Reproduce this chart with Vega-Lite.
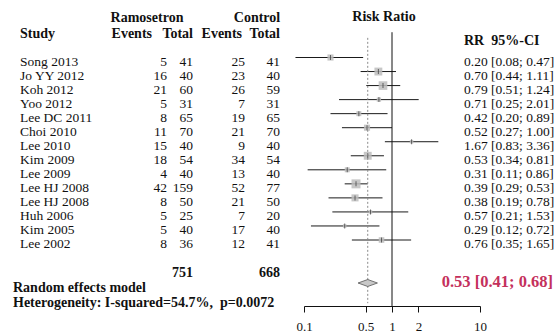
{
  "$schema": "https://vega.github.io/schema/vega-lite/v6.json",
  "width": 558,
  "height": 306,
  "autosize": {"type": "none"},
  "padding": {"left": 0, "right": 0, "top": 0, "bottom": 29},
  "background": "white",
  "config": {
    "view": {"stroke": null},
    "text": {"font": "Liberation Serif", "fontSize": 13.5, "color": "#111111", "baseline": "alphabetic"}
  },
  "datasets": {
    "studies": [
      {"row": 1, "study": "Song 2013", "e1": 5, "n1": 41, "e2": 25, "n2": 41, "rr": 0.20, "lo": 0.08, "hi": 0.47, "w": 6},
      {"row": 2, "study": "Jo YY 2012", "e1": 16, "n1": 40, "e2": 23, "n2": 40, "rr": 0.70, "lo": 0.44, "hi": 1.11, "w": 10},
      {"row": 3, "study": "Koh 2012", "e1": 21, "n1": 60, "e2": 26, "n2": 59, "rr": 0.79, "lo": 0.51, "hi": 1.24, "w": 12},
      {"row": 4, "study": "Yoo 2012", "e1": 5, "n1": 31, "e2": 7, "n2": 31, "rr": 0.71, "lo": 0.25, "hi": 2.01, "w": 3},
      {"row": 5, "study": "Lee DC 2011", "e1": 8, "n1": 65, "e2": 19, "n2": 65, "rr": 0.42, "lo": 0.20, "hi": 0.89, "w": 4},
      {"row": 6, "study": "Choi 2010", "e1": 11, "n1": 70, "e2": 21, "n2": 70, "rr": 0.52, "lo": 0.27, "hi": 1.00, "w": 6},
      {"row": 7, "study": "Lee 2010", "e1": 15, "n1": 40, "e2": 9, "n2": 40, "rr": 1.67, "lo": 0.83, "hi": 3.36, "w": 2},
      {"row": 8, "study": "Kim 2009", "e1": 18, "n1": 54, "e2": 34, "n2": 54, "rr": 0.53, "lo": 0.34, "hi": 0.81, "w": 10},
      {"row": 9, "study": "Lee 2009", "e1": 4, "n1": 40, "e2": 13, "n2": 40, "rr": 0.31, "lo": 0.11, "hi": 0.86, "w": 4},
      {"row": 10, "study": "Lee HJ 2008", "e1": 42, "n1": 159, "e2": 52, "n2": 77, "rr": 0.39, "lo": 0.29, "hi": 0.53, "w": 13},
      {"row": 11, "study": "Lee HJ 2008", "e1": 8, "n1": 50, "e2": 21, "n2": 50, "rr": 0.38, "lo": 0.19, "hi": 0.78, "w": 8},
      {"row": 12, "study": "Huh 2006", "e1": 5, "n1": 25, "e2": 7, "n2": 20, "rr": 0.57, "lo": 0.21, "hi": 1.53, "w": 2},
      {"row": 13, "study": "Kim 2005", "e1": 5, "n1": 40, "e2": 17, "n2": 40, "rr": 0.29, "lo": 0.12, "hi": 0.72, "w": 2},
      {"row": 14, "study": "Lee 2002", "e1": 8, "n1": 36, "e2": 12, "n2": 41, "rr": 0.76, "lo": 0.35, "hi": 1.65, "w": 5}
    ],
    "pooled": [
      {"model": "Random effects model", "het": "Heterogeneity: I-squared=54.7%,\u00a0 p=0.0072", "rr": 0.53, "lo": 0.41, "hi": 0.68, "n1": 751, "n2": 668}
    ],
    "headers": [
      {"text": "Ramosetron", "col": "ram", "line": "top"},
      {"text": "Control", "col": "ctl", "line": "top"},
      {"text": "Risk Ratio", "col": "forest", "line": "top"},
      {"text": "Study", "col": "study", "line": "sub"},
      {"text": "Events", "col": "e1", "line": "sub"},
      {"text": "Total", "col": "n1", "line": "sub"},
      {"text": "Events", "col": "e2", "line": "sub"},
      {"text": "Total", "col": "n2", "line": "sub"},
      {"text": "RR\u00a0 95%-CI", "col": "rr", "line": "sub"}
    ],
    "nullEffect": [{"rr": 1}]
  },
  "layer": [
    {
      "layer": [
        {
          "data": {"name": "studies"},
          "mark": {"type": "rule", "color": "#1a1a1a", "strokeWidth": 1},
          "encoding": {
            "x": {"field": "lo", "type": "quantitative",
              "scale": {"type": "log", "domain": [0.1, 10], "range": [304, 480], "nice": false, "clamp": false},
              "axis": {"values": [0.1, 0.5, 1, 2, 10], "format": "~g", "title": null, "grid": false,
                "domainColor": "#111111", "tickColor": "#111111", "tickSize": 6, "labelFont": "Liberation Serif",
                "labelFontSize": 13, "labelColor": "#111111", "labelPadding": 8, "labelFlush": false, "labelOverlap": false}},
            "x2": {"field": "hi"},
            "y": {"field": "row", "type": "quantitative", "scale": {"domain": [1, 14], "range": [57.5, 240]}, "axis": null}
          }
        },
        {
          "data": {"name": "studies"},
          "mark": {"type": "square", "color": "#bdbdbd", "opacity": 0.85},
          "encoding": {
            "x": {"field": "rr", "type": "quantitative", "scale": {"type": "log", "domain": [0.1, 10], "range": [304, 480], "nice": false, "clamp": false}},
            "y": {"field": "row", "type": "quantitative", "scale": {"domain": [1, 14], "range": [57.5, 240]}, "axis": null},
            "size": {"field": "w", "type": "quantitative", "scale": {"domain": [0, 13], "range": [0, 81]}, "legend": null}
          }
        },
        {
          "data": {"name": "studies"},
          "mark": {"type": "tick", "orient": "vertical", "size": 5, "thickness": 1, "color": "#333333"},
          "encoding": {
            "x": {"field": "rr", "type": "quantitative", "scale": {"type": "log", "domain": [0.1, 10], "range": [304, 480], "nice": false, "clamp": false}},
            "y": {"field": "row", "type": "quantitative", "scale": {"domain": [1, 14], "range": [57.5, 240]}, "axis": null}
          }
        },
        {
          "data": {"name": "nullEffect"},
          "mark": {"type": "rule", "color": "#111111", "strokeWidth": 1},
          "encoding": {
            "x": {"field": "rr", "type": "quantitative", "scale": {"type": "log", "domain": [0.1, 10], "range": [304, 480], "nice": false, "clamp": false}},
            "y": {"datum": -0.8, "type": "quantitative", "scale": {"domain": [1, 14], "range": [57.5, 240]}, "axis": null},
            "y2": {"datum": 18.7}
          }
        },
        {
          "data": {"name": "pooled"},
          "mark": {"type": "rule", "color": "#8a8a8a", "strokeWidth": 1, "strokeDash": [2, 2]},
          "encoding": {
            "x": {"field": "rr", "type": "quantitative", "scale": {"type": "log", "domain": [0.1, 10], "range": [304, 480], "nice": false, "clamp": false}},
            "y": {"datum": -0.4, "type": "quantitative", "scale": {"domain": [1, 14], "range": [57.5, 240]}, "axis": null},
            "y2": {"datum": 18.5}
          }
        },
        {
          "data": {"name": "pooled"},
          "mark": {"type": "point", "shape": "M-1,0L0,-0.36L1,0L0,0.36Z", "size": 376, "filled": true, "fill": "#c8c8c8", "stroke": "#555555", "strokeWidth": 0.8, "opacity": 1, "yOffset": -4},
          "encoding": {
            "x": {"field": "rr", "type": "quantitative", "scale": {"type": "log", "domain": [0.1, 10], "range": [304, 480], "nice": false, "clamp": false}},
            "y": {"datum": "model", "type": "nominal", "scale": {"type": "point", "domain": ["total", "model", "het"], "range": [272, 302], "padding": 0}, "axis": null}
          }
        },
        {
          "data": {"name": "headers"},
          "transform": [{"filter": "datum.col === 'forest'"}],
          "mark": {"type": "text", "align": "center", "fontWeight": "bold", "fontSize": 14, "dy": 4.6, "dx": -8},
          "encoding": {
            "x": {"datum": 1, "type": "quantitative", "scale": {"type": "log", "domain": [0.1, 10], "range": [304, 480], "nice": false, "clamp": false}},
            "y": {"field": "line", "type": "nominal", "scale": {"type": "point", "domain": ["top", "sub"], "range": [16, 33], "padding": 0}, "axis": null},
            "text": {"field": "text"}
          }
        }
      ],
      "resolve": {"scale": {"y": "independent"}}
    },
    {
      "data": {"name": "studies"},
      "mark": {"type": "text", "align": "left", "dy": 8},
      "encoding": {
        "x": {"field": "study", "type": "nominal", "scale": {"type": "point", "range": [20, 20]}, "axis": null},
        "y": {"field": "row", "type": "quantitative", "scale": {"domain": [1, 14], "range": [57.5, 240]}, "axis": null},
        "text": {"field": "study"}
      }
    },
    {
      "data": {"name": "studies"},
      "transform": [{"fold": ["e1", "n1"], "as": ["col", "val"]}],
      "mark": {"type": "text", "align": "right", "dy": 8},
      "encoding": {
        "x": {"field": "col", "type": "nominal", "scale": {"type": "point", "domain": ["e1", "n1"], "range": [167, 193], "padding": 0}, "axis": null},
        "y": {"field": "row", "type": "quantitative", "scale": {"domain": [1, 14], "range": [57.5, 240]}, "axis": null},
        "text": {"field": "val"}
      }
    },
    {
      "data": {"name": "studies"},
      "transform": [{"fold": ["e2", "n2"], "as": ["col", "val"]}],
      "mark": {"type": "text", "align": "right", "dy": 8},
      "encoding": {
        "x": {"field": "col", "type": "nominal", "scale": {"type": "point", "domain": ["e2", "n2"], "range": [245, 280], "padding": 0}, "axis": null},
        "y": {"field": "row", "type": "quantitative", "scale": {"domain": [1, 14], "range": [57.5, 240]}, "axis": null},
        "text": {"field": "val"}
      }
    },
    {
      "data": {"name": "studies"},
      "transform": [{"calculate": "format(datum.rr, '.2f') + ' [' + format(datum.lo, '.2f') + '; ' + format(datum.hi, '.2f') + ']'", "as": "ci"}],
      "mark": {"type": "text", "align": "left", "dy": 8},
      "encoding": {
        "x": {"field": "study", "type": "nominal", "scale": {"type": "point", "range": [464, 464]}, "axis": null},
        "y": {"field": "row", "type": "quantitative", "scale": {"domain": [1, 14], "range": [57.5, 240]}, "axis": null},
        "text": {"field": "ci"}
      }
    },
    {
      "data": {"name": "headers"},
      "transform": [{"filter": "datum.col === 'ram' || datum.col === 'ctl'"}],
      "mark": {"type": "text", "align": "center", "fontWeight": "bold", "fontSize": 14, "dy": 4.6},
      "encoding": {
        "x": {"field": "col", "type": "nominal", "scale": {"type": "point", "domain": ["ram", "ctl"], "range": [147, 257], "padding": 0}, "axis": null},
        "y": {"field": "line", "type": "nominal", "scale": {"type": "point", "domain": ["top", "sub"], "range": [17, 33], "padding": 0}, "axis": null},
        "text": {"field": "text"}
      }
    },
    {
      "data": {"name": "headers"},
      "transform": [{"filter": "datum.col === 'e1' || datum.col === 'e2'"}],
      "mark": {"type": "text", "align": "right", "fontWeight": "bold", "fontSize": 14, "dy": 4.6},
      "encoding": {
        "x": {"field": "col", "type": "nominal", "scale": {"type": "point", "domain": ["e1", "e2"], "range": [152, 242], "padding": 0}, "axis": null},
        "y": {"field": "line", "type": "nominal", "scale": {"type": "point", "domain": ["top", "sub"], "range": [17, 33], "padding": 0}, "axis": null},
        "text": {"field": "text"}
      }
    },
    {
      "data": {"name": "headers"},
      "transform": [{"filter": "datum.col === 'n1' || datum.col === 'n2'"}],
      "mark": {"type": "text", "align": "right", "fontWeight": "bold", "fontSize": 14, "dy": 4.6},
      "encoding": {
        "x": {"field": "col", "type": "nominal", "scale": {"type": "point", "domain": ["n1", "n2"], "range": [193, 280], "padding": 0}, "axis": null},
        "y": {"field": "line", "type": "nominal", "scale": {"type": "point", "domain": ["top", "sub"], "range": [17, 33], "padding": 0}, "axis": null},
        "text": {"field": "text"}
      }
    },
    {
      "data": {"name": "headers"},
      "transform": [{"filter": "datum.col === 'study'"}],
      "mark": {"type": "text", "align": "left", "fontWeight": "bold", "fontSize": 14, "dy": 4.6},
      "encoding": {
        "x": {"field": "col", "type": "nominal", "scale": {"type": "point", "domain": ["study"], "range": [20, 20], "padding": 0}, "axis": null},
        "y": {"field": "line", "type": "nominal", "scale": {"type": "point", "domain": ["top", "sub"], "range": [17, 33], "padding": 0}, "axis": null},
        "text": {"field": "text"}
      }
    },
    {
      "data": {"name": "headers"},
      "transform": [{"filter": "datum.col === 'rr'"}],
      "mark": {"type": "text", "align": "left", "fontWeight": "bold", "fontSize": 14, "dy": 11.5},
      "encoding": {
        "x": {"field": "col", "type": "nominal", "scale": {"type": "point", "domain": ["rr"], "range": [464, 464], "padding": 0}, "axis": null},
        "y": {"field": "line", "type": "nominal", "scale": {"type": "point", "domain": ["top", "sub"], "range": [17, 33], "padding": 0}, "axis": null},
        "text": {"field": "text"}
      }
    },
    {
      "data": {"name": "pooled"},
      "transform": [{"fold": ["n1", "n2"], "as": ["col", "val"]}],
      "mark": {"type": "text", "align": "right", "fontWeight": "bold", "fontSize": 14, "dy": 4.6},
      "encoding": {
        "x": {"field": "col", "type": "nominal", "scale": {"type": "point", "domain": ["n1", "n2"], "range": [193, 280], "padding": 0}, "axis": null},
        "y": {"datum": "total", "type": "nominal", "scale": {"type": "point", "domain": ["total", "model", "het"], "range": [272, 302], "padding": 0}, "axis": null},
        "text": {"field": "val"}
      }
    },
    {
      "data": {"name": "pooled"},
      "transform": [{"fold": ["model", "het"], "as": ["line", "label"]}],
      "mark": {"type": "text", "align": "left", "fontWeight": "bold", "fontSize": 14, "dy": 4.6},
      "encoding": {
        "x": {"field": "line", "type": "nominal", "scale": {"type": "point", "range": [13, 13]}, "axis": null},
        "y": {"field": "line", "type": "nominal", "scale": {"type": "point", "domain": ["total", "model", "het"], "range": [272, 302], "padding": 0}, "axis": null},
        "text": {"field": "label"}
      }
    },
    {
      "data": {"name": "pooled"},
      "transform": [{"calculate": "format(datum.rr, '.2f') + ' [' + format(datum.lo, '.2f') + '; ' + format(datum.hi, '.2f') + ']'", "as": "ci"}],
      "mark": {"type": "text", "align": "right", "fontWeight": "bold", "fontSize": 16.5, "dy": 0, "color": "#c4305c"},
      "encoding": {
        "x": {"field": "model", "type": "nominal", "scale": {"type": "point", "range": [553, 553]}, "axis": null},
        "y": {"datum": "model", "type": "nominal", "scale": {"type": "point", "domain": ["total", "model", "het"], "range": [272, 302], "padding": 0}, "axis": null},
        "text": {"field": "ci"}
      }
    }
  ],
  "resolve": {"scale": {"x": "independent", "y": "independent"}}
}
